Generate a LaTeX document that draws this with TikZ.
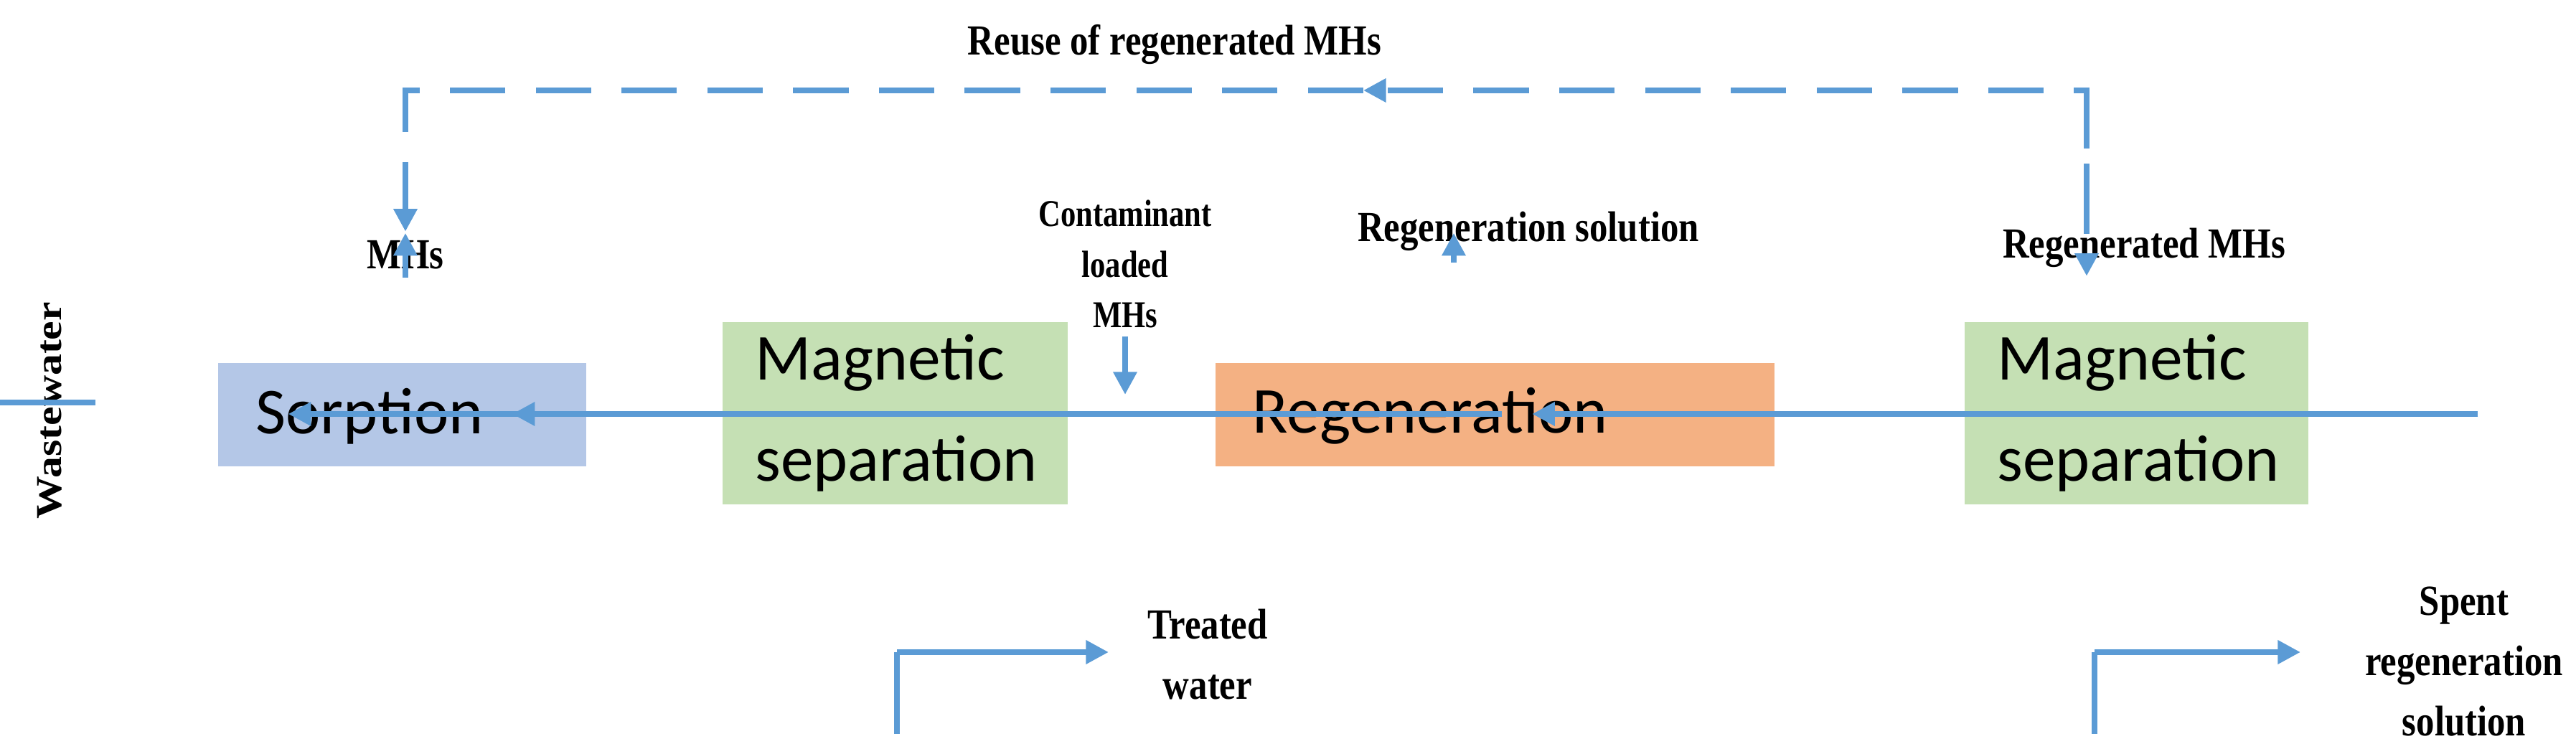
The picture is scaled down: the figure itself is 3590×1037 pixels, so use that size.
\documentclass[tikz,border=0pt]{standalone}
\usepackage{fontspec}
\setmainfont{Liberation Serif}
\newfontfamily\boxfont{Carlito}
\usetikzlibrary{arrows.meta}
\definecolor{ln}{RGB}{91,155,213}
\definecolor{bl}{RGB}{180,199,231}
\definecolor{gr}{RGB}{197,224,180}
\definecolor{or}{RGB}{244,177,131}
\begin{document}
\begin{tikzpicture}[x=0.01cm,y=-0.01cm,
  box/.style={draw=none,inner sep=0,outer sep=0},
  btxt/.style={font=\boxfont\fontsize{26}{40}\selectfont,anchor=west,align=left},
  lab/.style={font=\bfseries\fontsize{17}{24}\selectfont,align=center,xscale=0.85},
  arr/.style={draw=ln,line width=2.2pt,-{Triangle[length=9pt,width=9pt]}},
  flow/.style={draw=ln,line width=2.2pt},
  dsh/.style={dash pattern=on 22pt off 12pt}]
\useasboundingbox (0,0) rectangle (3590,1037);
\fill[bl] (304,506) rectangle (817,650) coordinate (sorpSE);
\node[box,minimum width=513,minimum height=144] (sorp) at (560.5,578) {};
\fill[gr] (1007,449) rectangle (1488,703);
\node[box,minimum width=481,minimum height=254] (ms1) at (1247.5,576) {};
\fill[or] (1694,506) rectangle (2473,650);
\node[box,minimum width=779,minimum height=144] (reg) at (2083.5,578) {};
\fill[gr] (2738,449) rectangle (3217,703);
\node[box,minimum width=479,minimum height=254] (ms2) at (2977.5,576) {};
\node[btxt] at (344,580) {Sorption};
\node[btxt] at (1040,576) {Magnetic\\separation};
\node[btxt] at (1733,580) {Regeneration};
\node[btxt] at (2771,576) {Magnetic\\separation};
% labels
\node[lab,rotate=90] (ww) at (69,572) {Wastewater};
\node[lab] (reuse) at (1637,62) {Reuse of regenerated MHs};
\node[lab] (mhs) at (565,355) {MHs};
\node[lab,font=\bfseries\fontsize{15}{20}\selectfont,xscale=0.95] (cl) at (1568,368) {Contaminant\\loaded\\MHs};
\node[lab] (rs) at (2130,322) {Regeneration solution};
\node[lab] (rm) at (2988,345) {Regenerated MHs};
\node[lab] (tw) at (1683,912) {Treated\\water};
\node[lab] (sp) at (3434,922) {Spent\\regeneration\\solution};
\coordinate (wwA) at (133,561);
\coordinate (top1) at (565,126);
\coordinate (top2) at (2908,126);
\coordinate (mid) at (1900,126);
\coordinate (cl1) at (1568,469);
\coordinate (cl2) at (1568,550);
\coordinate (rs1) at (2026,366);
\coordinate (b1) at (1250,909);
\coordinate (b1e) at (1545,909);
\coordinate (b2) at (2919,909);
\coordinate (b2e) at (3206,909);
% arrows
\draw[arr] (wwA) -- (sorp.west|-wwA);
\draw[arr] (sorp.east|-0,577) -- (ms1.west|-0,577);
\draw[arr] (ms1.east|-0,577) -- (reg.west|-0,577);
\draw[arr] (reg.east|-0,577) -- (ms2.west|-0,577);
\draw[arr] (cl1) -- (cl2);
\draw[arr] (rs1) -- (reg.north-|rs1);
\draw[flow] (ms1.south-|b1) -- (b1);
\draw[arr] (b1) -- (b1e);
\draw[flow] (ms2.south-|b2) -- (b2);
\draw[arr] (b2) -- (b2e);
% dashed loop
\draw[arr,dsh] (ms2.north-|top2) -- (rm.south-|top2);
\draw[arr,dsh] (rm.north-|top2) -- (top2) -- (mid);
\draw[arr,dsh] (mid) -- (top1) -- (mhs.north-|top1);
\draw[arr,dsh] (mhs.south-|top1) -- (sorp.north-|top1);
\end{tikzpicture}
\end{document}
